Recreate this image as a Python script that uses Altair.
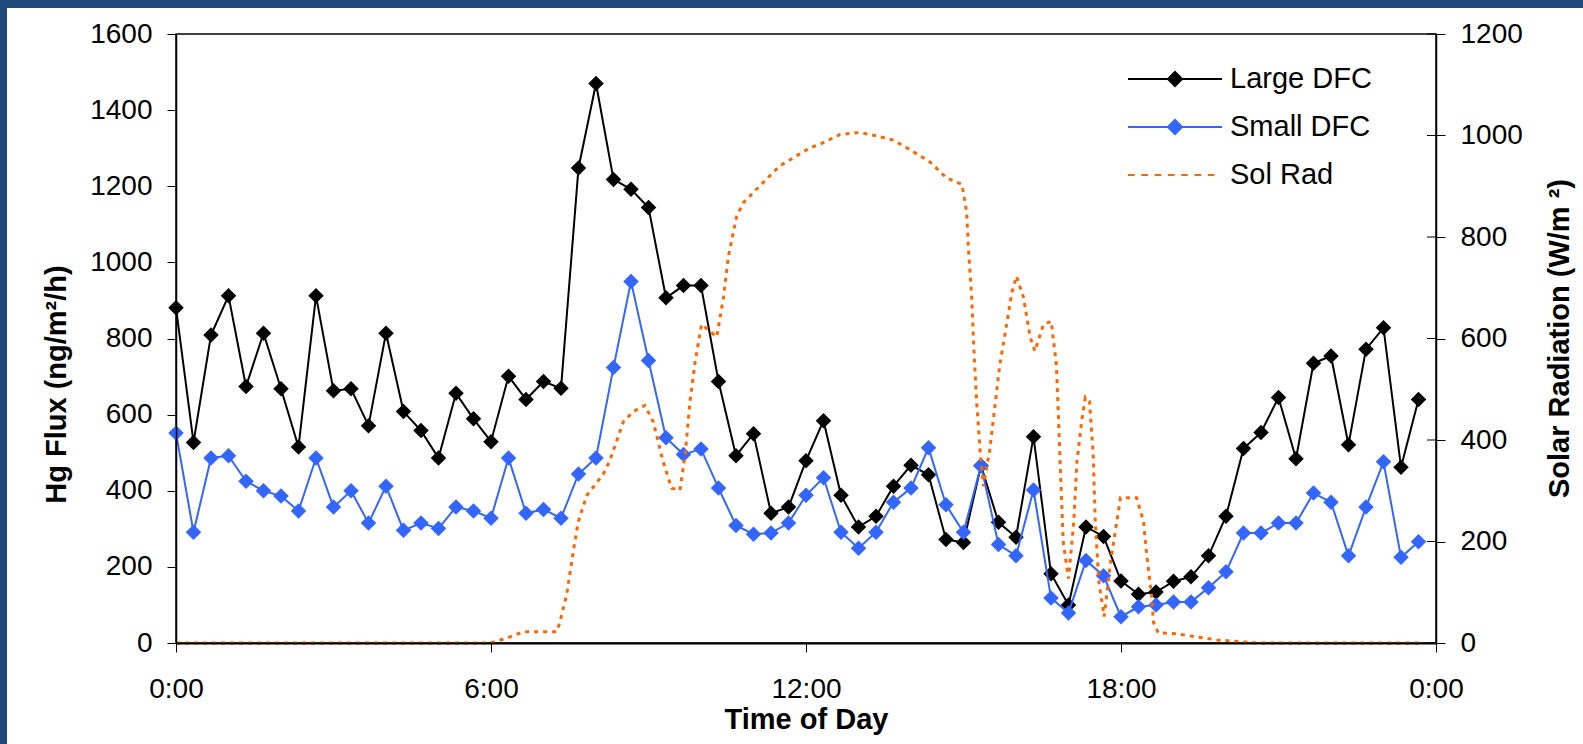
import altair as alt
import pandas as pd

# ---------------- data ----------------
series_names = ["Large DFC", "Small DFC", "Sol Rad"]
series_colors = ["#000000", "#3366FF", "#FF6600"]

# flux measured every 20 minutes, 0:00 .. 23:40
flux_hours = [i / 3 for i in range(72)]
large_dfc = [881, 527, 809, 912, 674, 814, 668, 515, 912, 663, 668, 571,
             814, 608, 558, 486, 656, 589, 529, 701, 640, 687, 669, 1248,
             1470, 1218, 1192, 1144, 907, 939, 939, 687, 492, 550, 341, 357,
             479, 584, 388, 305, 333, 412, 467, 442, 272, 264, 466, 317,
             278, 542, 182, 100, 305, 280, 163, 128, 134, 162, 174, 229,
             333, 511, 553, 645, 484, 735, 754, 521, 772, 828, 462, 640]
small_dfc = [552, 291, 486, 492, 425, 400, 386, 347, 486, 357, 400, 315,
             412, 296, 315, 301, 357, 347, 328, 486, 341, 351, 328, 444,
             486, 724, 950, 742, 539, 495, 510, 407, 309, 286, 289, 315,
             388, 434, 291, 249, 291, 370, 407, 513, 363, 291, 466, 259,
             229, 402, 118, 79, 217, 177, 69, 95, 100, 108, 108, 145,
             187, 289, 289, 315, 315, 394, 370, 229, 357, 476, 225, 266]

sol_hours = [0.0, 6.0, 6.36, 6.62, 7.25, 7.31, 7.44, 7.57, 7.66, 7.82, 8.14,
             8.27, 8.52, 8.71, 8.93, 9.09, 9.28, 9.44, 9.60, 9.70, 9.79, 9.89,
             10.01, 10.30, 10.43, 10.52, 10.68, 10.81, 11.19, 11.50, 12.08,
             12.27, 12.65, 13.03, 13.35, 13.66, 13.98, 14.36, 14.68, 14.97,
             15.06, 15.09, 15.16, 15.19, 15.25, 15.32, 15.38, 15.50, 15.60,
             15.69, 15.82, 15.92, 16.01, 16.14, 16.27, 16.36, 16.52, 16.67,
             16.77, 16.80, 16.84, 16.90, 17.00, 17.10, 17.16, 17.25, 17.32,
             17.40, 17.47, 17.51, 17.58, 17.68, 17.80, 17.99, 18.30, 18.43,
             18.49, 18.58, 18.62, 18.71, 19.06, 19.44, 19.83, 20.34, 20.60,
             23.75]
sol_values = [0, 0, 12, 22, 22, 40, 95, 182, 238, 290, 333,
              361, 436, 456, 468, 436, 357, 305, 301, 373, 476, 555,
              628, 603, 682, 761, 841, 868, 908, 940, 976,
              983, 1002, 1006, 999, 991, 972, 948, 916, 904,
              849, 785, 674, 595, 476, 373, 309, 381, 468,
              547, 627, 690, 723, 682, 603, 575, 627, 634,
              547, 468, 357, 198, 127, 238, 357, 436, 484,
              476, 373, 238, 119, 52, 159, 286, 286, 238,
              174, 95, 40, 20, 18, 12, 6, 2, 0,
              0]

flux_ticks = [0, 200, 400, 600, 800, 1000, 1200, 1400, 1600]
sol_ticks = [0, 200, 400, 600, 800, 1000, 1200]
x_tick_values = [0, 6, 12, 18, 24]
x_tick_labels = ["0:00", "6:00", "12:00", "18:00", "0:00"]

# ---------------- styling ----------------
FONT = "Liberation Sans"
W, H = 1260, 609
BLUE_FRAME = "#1f497d"

label_expr = ""
for v, lab in zip(x_tick_values, x_tick_labels):
    label_expr += f"datum.value == {v} ? '{lab}' : "
label_expr += "''"

x_scale = alt.Scale(domain=[0, 24], nice=False, zero=False)
flux_scale = alt.Scale(domain=[0, 1600], nice=False)
sol_scale = alt.Scale(domain=[0, 1200], nice=False)

x_axis = alt.Axis(values=x_tick_values, labelExpr=label_expr, tickSize=9,
                  tickColor="black", tickWidth=1, domainColor="black",
                  domainWidth=2, labelFontSize=28, labelFont=FONT,
                  labelColor="black", labelBaseline="alphabetic",
                  labelPadding=45, labelFlush=False, labelOverlap=False,
                  title="Time of Day", titleFontSize=29, titleFont=FONT,
                  titleFontWeight="bold", titleColor="black",
                  titleBaseline="alphabetic", titleAlign="center",
                  titleX=W / 2, titleY=85, grid=False, zindex=1)

y_left_axis = alt.Axis(values=flux_ticks, format="d", orient="left", tickSize=9,
                       tickColor="black", tickWidth=1, domainColor="black",
                       domainWidth=1.5, labelFontSize=28, labelFont=FONT,
                       labelColor="black", labelPadding=15,
                       title="Hg Flux (ng/m²/h)", titleFontSize=29,
                       titleFont=FONT, titleFontWeight="bold",
                       titleColor="black", titleAngle=270, titleX=-111,
                       titleY=350, titleAlign="center",
                       titleBaseline="alphabetic", grid=False, zindex=1)

y_right_axis = alt.Axis(values=sol_ticks, format="d", orient="right", tickSize=9,
                        tickColor="black", tickWidth=1, domainColor="black",
                        domainWidth=1.5, labelFontSize=28, labelFont=FONT,
                        labelColor="black", labelPadding=15,
                        title="Solar Radiation (W/m ²)", titleFontSize=29,
                        titleFont=FONT, titleFontWeight="bold",
                        titleColor="black", titleAngle=270, titleX=132,
                        titleY=304, titleAlign="center",
                        titleBaseline="alphabetic", grid=False, zindex=1)

# legend symbols: line + diamond, and dashed line
path_flux = "M-1,0L1,0M-0.15,0L0,-0.15L0.15,0L0,0.15Z"
path_sol = ""
for k in range(7):
    s = -1 + k * 0.283
    path_sol += f"M{s:.3f},0L{s + 0.14:.3f},0"

leg = alt.Legend(title=None, orient="none", legendX=951, legendY=25,
                 symbolSize=8836, symbolStrokeWidth=2, labelFontSize=29,
                 labelFont=FONT, labelColor="black", labelOffset=7,
                 clipHeight=40, rowPadding=8, padding=0, labelLimit=400)

df_flux = pd.DataFrame({"hour": flux_hours, "large": large_dfc,
                        "small": small_dfc})
df_sol = pd.DataFrame({"hour": sol_hours, "sol": sol_values})
df_legend = pd.DataFrame({"series": series_names, "hour": [-10] * 3,
                          "flux": [800] * 3})
df_ticks = pd.DataFrame({"t": sol_ticks})
df_one = pd.DataFrame({"a": [0]})


def xenc():
    return alt.X("hour:Q", scale=x_scale, axis=x_axis)


frame_left = alt.Chart(df_one).mark_rect(color=BLUE_FRAME).encode(
    x=alt.value(-176), x2=alt.value(-169), y=alt.value(-34), y2=alt.value(H + 101))
frame_top = alt.Chart(df_one).mark_rect(color=BLUE_FRAME).encode(
    x=alt.value(-176), x2=alt.value(W + 147), y=alt.value(-34), y2=alt.value(-26))

MARKER = 240
large_line = alt.Chart(df_flux).mark_line(color="black", strokeWidth=2).encode(
    x=xenc(), y=alt.Y("large:Q", scale=flux_scale, axis=y_left_axis))
large_pts = alt.Chart(df_flux).mark_point(shape="diamond", filled=True, size=MARKER,
                                          color="black", opacity=1).encode(
    x=xenc(), y=alt.Y("large:Q", scale=flux_scale, axis=y_left_axis))
small_line = alt.Chart(df_flux).mark_line(color="#3366FF", strokeWidth=2).encode(
    x=xenc(), y=alt.Y("small:Q", scale=flux_scale, axis=y_left_axis))
small_pts = alt.Chart(df_flux).mark_point(shape="diamond", filled=True, size=MARKER,
                                          color="#3366FF", opacity=1).encode(
    x=xenc(), y=alt.Y("small:Q", scale=flux_scale, axis=y_left_axis))

legend_layer = alt.Chart(df_legend).mark_point(filled=True, opacity=1, clip=True).encode(
    x=xenc(),
    y=alt.Y("flux:Q", scale=flux_scale, axis=y_left_axis),
    fill=alt.Fill("series:N", scale=alt.Scale(domain=series_names, range=series_colors), legend=leg),
    stroke=alt.Stroke("series:N", scale=alt.Scale(domain=series_names, range=series_colors), legend=leg),
    shape=alt.Shape("series:N", scale=alt.Scale(domain=series_names,
                                                range=[path_flux, path_flux, path_sol]), legend=leg),
)

left = alt.layer(frame_left, frame_top, large_line, large_pts, small_line,
                 small_pts, legend_layer)

sol_line = alt.Chart(df_sol).mark_line(color="#FF6600", strokeWidth=3,
                                       strokeDash=[4, 5]).encode(
    x=xenc(), y=alt.Y("sol:Q", scale=sol_scale, axis=y_right_axis))
inner_ticks = alt.Chart(df_ticks).mark_rule(color="black", strokeWidth=1).encode(
    y=alt.Y("t:Q", scale=sol_scale, axis=y_right_axis),
    x=alt.value(W - 9), x2=alt.value(W))

right = alt.layer(sol_line, inner_ticks)

chart = alt.layer(left, right).resolve_scale(y="independent").properties(
    width=W, height=H,
    padding={"left": 176, "top": 34, "right": 147, "bottom": 101},
    autosize=alt.AutoSizeParams(type="none"),
    background="white",
).configure_view(stroke="black", strokeWidth=1.5)

chart.save("out.html", embed_options={"renderer": "svg", "actions": False})
